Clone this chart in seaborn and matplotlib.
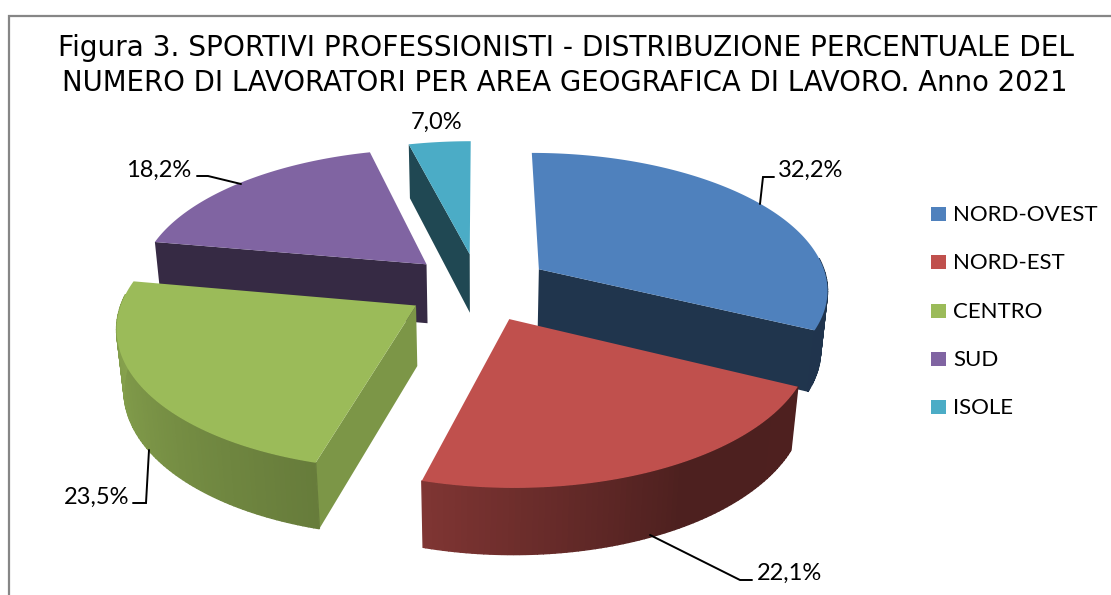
import numpy as np
import matplotlib
matplotlib.use('Agg')
import matplotlib.pyplot as plt
import seaborn as sns
from matplotlib.patches import Polygon

# Values
areas = ['NORD-OVEST', 'NORD-EST', 'CENTRO', 'SUD', 'ISOLE']
slice_shares = [32.2, 22.1, 23.5, 18.2, 4.0]  # the teal slice is drawn narrower than its label
value_labels = ['32,2%', '22,1%', '23,5%', '18,2%', '7,0%']
title_lines = ['Figura 3. SPORTIVI PROFESSIONISTI - DISTRIBUZIONE PERCENTUALE DEL',
               'NUMERO DI LAVORATORI PER AREA GEOGRAFICA DI LAVORO. Anno 2021']

colors = sns.color_palette(['#4F81BD', '#C0504D', '#9BBB59', '#8064A2', '#4BACC6'])

# Projection settings, fitted by eye
CX, CY = 478.5, 287
RX, RY = 290, 136.5
EXPLODE = 0.25
PERSP = 0.135
WALL = 61
WALL_W = 0.02


def project(x, y, bottom=False):
    w = 1 + PERSP * y + (WALL_W if bottom else 0)
    h = WALL if bottom else 0
    return CX + RX * x / w, CY + (h - RY * y) / w


def shade(col, f):
    return tuple(np.array(col) * f)


def outer_shade(theta):
    return np.interp(theta, [90, 150, 195, 240, 285], [0.41, 0.40, 0.66, 0.80, 0.90])


sns.set_theme(style='white')
plt.rcParams['font.family'] = ['Lato', 'DejaVu Sans']
fig, ax = plt.subplots(figsize=(11.11, 5.95), dpi=100)
ax.set_position([0, 0, 1, 1])
ax.set_xlim(0, 1111)
ax.set_ylim(595, 0)
ax.axis('off')

edges = np.concatenate([[0], np.cumsum(slice_shares)]) / np.sum(slice_shares) * 360
radial_shade = [0.41, 0.40, 0.80, 0.42, 0.42]

# Far slices first so the nearer ones paint over them
mids = (edges[:-1] + edges[1:]) / 2
order = np.argsort(-np.cos(np.radians(mids)))
for i in order:
    t0, t1, mid = edges[i], edges[i + 1], mids[i]
    ox = EXPLODE * np.sin(np.radians(mid))
    oy = EXPLODE * np.cos(np.radians(mid))
    theta = np.linspace(t0, t1, int(t1 - t0) * 2 + 2)
    xs = ox + np.sin(np.radians(theta))
    ys = oy + np.cos(np.radians(theta))

    # Cut faces, only the ones turned to the viewer
    for xe, ye, facing in [(xs[0], ys[0], np.sin(np.radians(t0))), (xs[-1], ys[-1], -np.sin(np.radians(t1)))]:
        if facing < -0.01:
            pts = [project(ox, oy), project(xe, ye), project(xe, ye, True), project(ox, oy, True)]
            ax.add_patch(Polygon(pts, closed=True, fc=shade(colors[i], radial_shade[i]), ec='none'))

    # Outer wall as strips for the gradient, front part only
    step = 2
    for k in range(0, len(theta) - 1, step):
        th = theta[k:k + step + 1]
        if th.mean() < 85 or th.mean() > 275:
            continue
        x_seg, y_seg = xs[k:k + step + 1], ys[k:k + step + 1]
        pts = [project(a, b) for a, b in zip(x_seg, y_seg)]
        pts += [project(a, b, True) for a, b in zip(x_seg[::-1], y_seg[::-1])]
        c = shade(colors[i], outer_shade(th.mean()))
        ax.add_patch(Polygon(pts, closed=True, fc=c, ec=c, lw=1.0))

    # Top face
    top = [project(ox, oy)] + [project(a, b) for a, b in zip(xs, ys)]
    ax.add_patch(Polygon(top, closed=True, fc=colors[i], ec='none'))

# Chart frame
ax.plot([8.5, 8.5, 1111], [595, 15.5, 15.5], color='#868686', lw=1.6, solid_joinstyle='miter')

# Title
ax.text(566, 48, title_lines[0], ha='center', va='center', fontsize=20.2, family='DejaVu Sans', color='black')
ax.text(564.5, 83, title_lines[1], ha='center', va='center', fontsize=19.8, family='DejaVu Sans', color='black')

# Data labels and leader lines
label_pos = [(778, 170, 'left'), (757, 573, 'left'), (129, 497, 'right'), (191, 170, 'right'), (437, 122, 'center')]
leaders = [[(760, 204), (763, 177), (774, 177)],
           [(650, 535), (740, 580), (752, 580)],
           [(149, 450), (146, 503), (133, 503)],
           [(241, 184), (208, 176), (197, 176)],
           None]
for txt, (x, y, ha), line in zip(value_labels, label_pos, leaders):
    ax.text(x, y, txt, ha=ha, va='center', fontsize=17, color='black')
    if line is not None:
        ax.plot(*zip(*line), color='black', lw=1.4, solid_joinstyle='miter')

# Legend
legend_y = [214, 262, 311, 359, 407]
for name, col, y in zip(areas, colors, legend_y):
    ax.add_patch(Polygon([(931, y - 7), (946, y - 7), (946, y + 7), (931, y + 7)], closed=True, fc=col, ec='none'))
    ax.text(953, y + 1, name, ha='left', va='center', fontsize=16, color='black')

plt.savefig('out.png', dpi=100)
plt.close()
